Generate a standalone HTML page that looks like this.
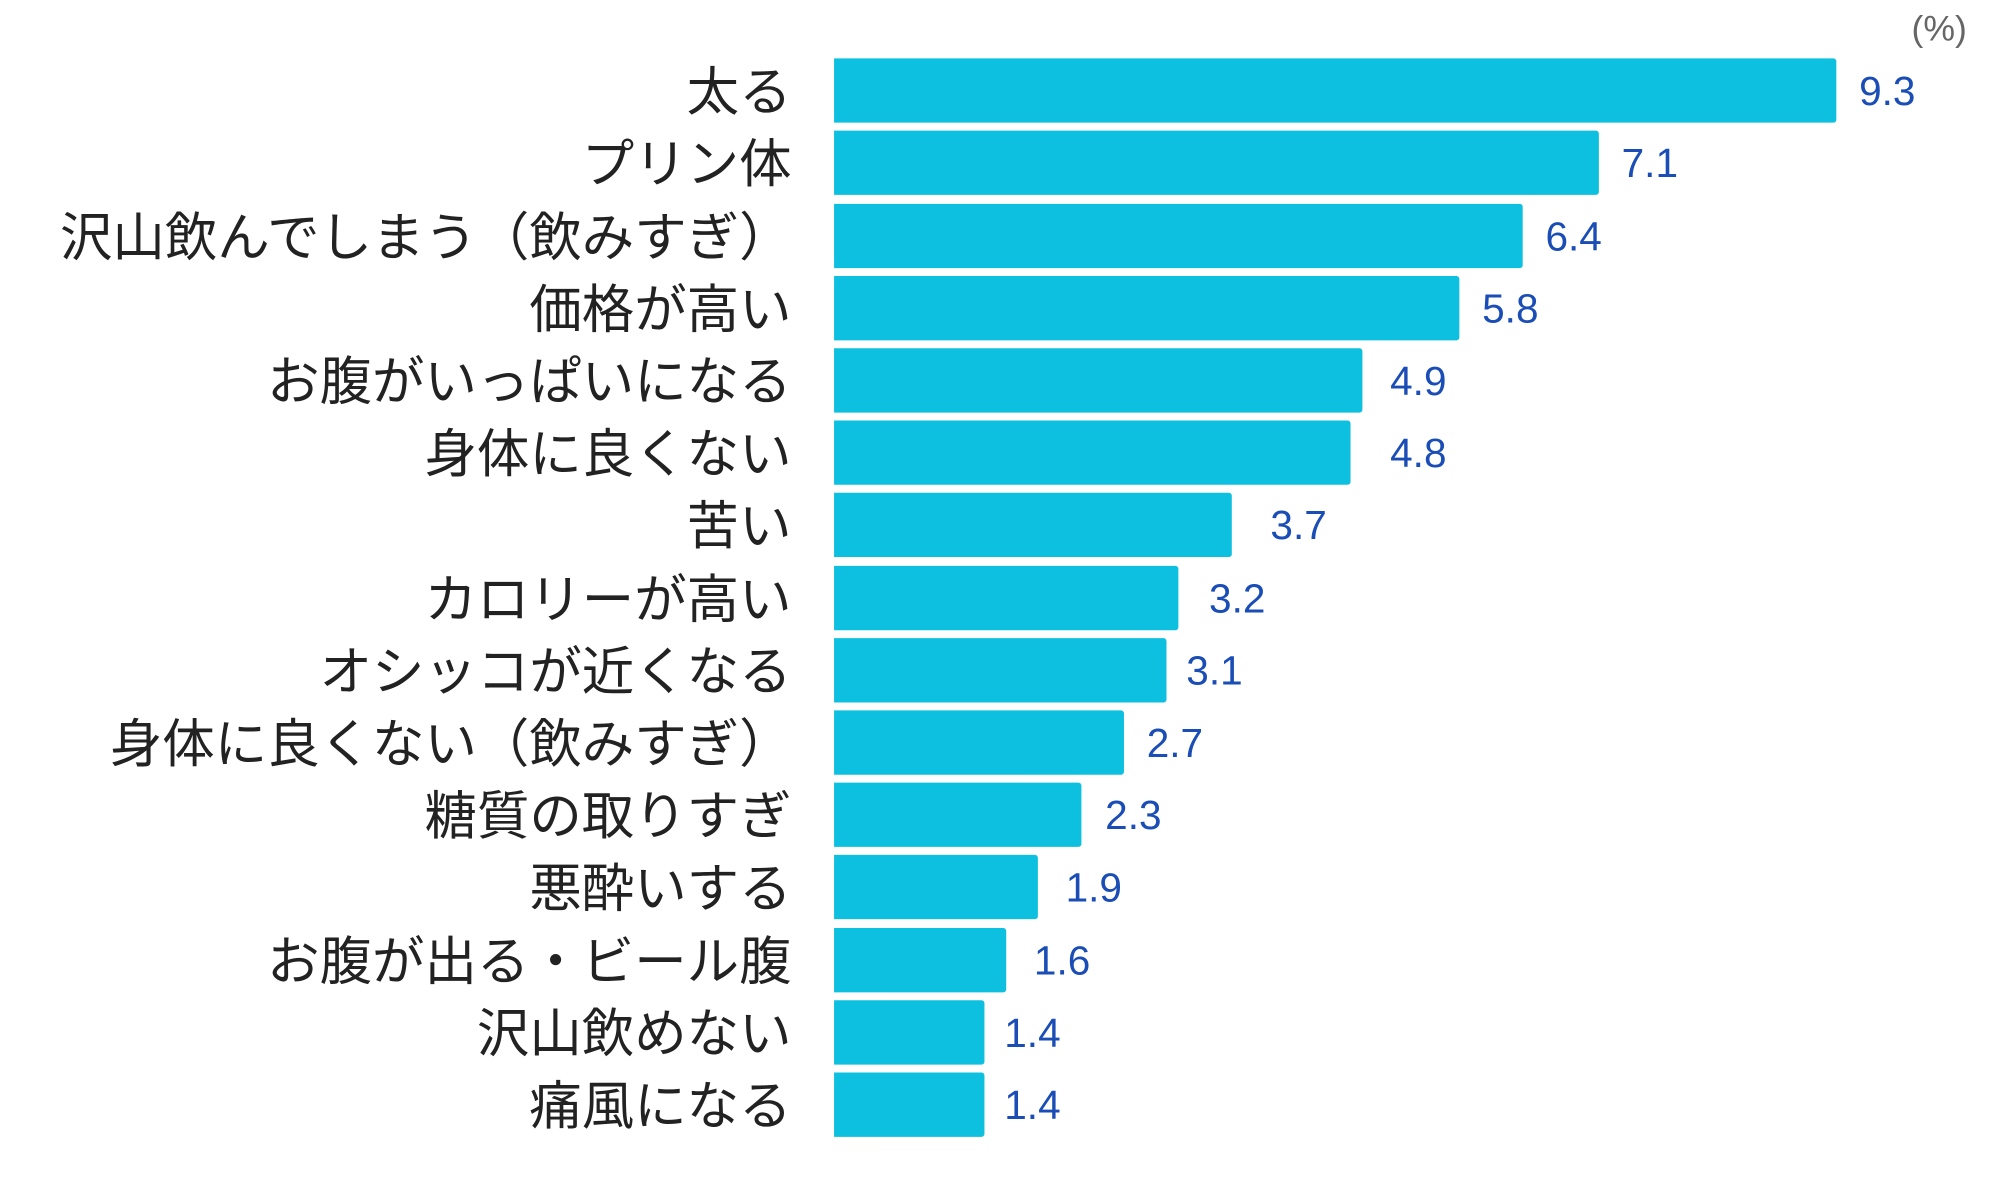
<!DOCTYPE html>
<html><head><meta charset="utf-8"><style>
body{margin:0;width:2000px;height:1200px;background:#fff;position:relative;overflow:hidden;font-family:"Liberation Sans","Noto Sans CJK JP",sans-serif}
#w{position:absolute;left:0;top:0;width:2000px;height:1200px;transform:scale(0.9894);transform-origin:0 0}
.r{position:absolute;left:0;width:2000px;height:65px}
.l{position:absolute;right:1200px;top:2px;height:65px;line-height:65px;font-size:53px;color:#222;white-space:nowrap}
.b{position:absolute;left:843px;top:0;height:65px;background:#0dc0e0;border-radius:0 3px 3px 0}
.v{position:absolute;top:1px;height:65px;line-height:65px;font-size:41px;color:#1a4db5}
</style></head><body><div id="w">
<div style="position:absolute;left:1932px;top:8px;font-size:36px;color:#666">(%)</div>
<div class="r" style="top:59px"><div class="l">太る</div><div class="b" style="width:1013px"></div><div class="v" style="left:1879px">9.3</div></div>
<div class="r" style="top:132px"><div class="l">プリン体</div><div class="b" style="width:773px"></div><div class="v" style="left:1639px">7.1</div></div>
<div class="r" style="top:206px"><div class="l">沢山飲んでしまう（飲みすぎ）</div><div class="b" style="width:696px"></div><div class="v" style="left:1562px">6.4</div></div>
<div class="r" style="top:279px"><div class="l">価格が高い</div><div class="b" style="width:632px"></div><div class="v" style="left:1498px">5.8</div></div>
<div class="r" style="top:352px"><div class="l">お腹がいっぱいになる</div><div class="b" style="width:534px"></div><div class="v" style="left:1405px">4.9</div></div>
<div class="r" style="top:425px"><div class="l">身体に良くない</div><div class="b" style="width:522px"></div><div class="v" style="left:1405px">4.8</div></div>
<div class="r" style="top:498px"><div class="l">苦い</div><div class="b" style="width:402px"></div><div class="v" style="left:1284px">3.7</div></div>
<div class="r" style="top:572px"><div class="l">カロリーが高い</div><div class="b" style="width:348px"></div><div class="v" style="left:1222px">3.2</div></div>
<div class="r" style="top:645px"><div class="l">オシッコが近くなる</div><div class="b" style="width:336px"></div><div class="v" style="left:1199px">3.1</div></div>
<div class="r" style="top:718px"><div class="l">身体に良くない（飲みすぎ）</div><div class="b" style="width:293px"></div><div class="v" style="left:1159px">2.7</div></div>
<div class="r" style="top:791px"><div class="l">糖質の取りすぎ</div><div class="b" style="width:250px"></div><div class="v" style="left:1117px">2.3</div></div>
<div class="r" style="top:864px"><div class="l">悪酔いする</div><div class="b" style="width:206px"></div><div class="v" style="left:1077px">1.9</div></div>
<div class="r" style="top:938px"><div class="l">お腹が出る・ビール腹</div><div class="b" style="width:174px"></div><div class="v" style="left:1045px">1.6</div></div>
<div class="r" style="top:1011px"><div class="l">沢山飲めない</div><div class="b" style="width:152px"></div><div class="v" style="left:1015px">1.4</div></div>
<div class="r" style="top:1084px"><div class="l">痛風になる</div><div class="b" style="width:152px"></div><div class="v" style="left:1015px">1.4</div></div>
</div></body></html>
